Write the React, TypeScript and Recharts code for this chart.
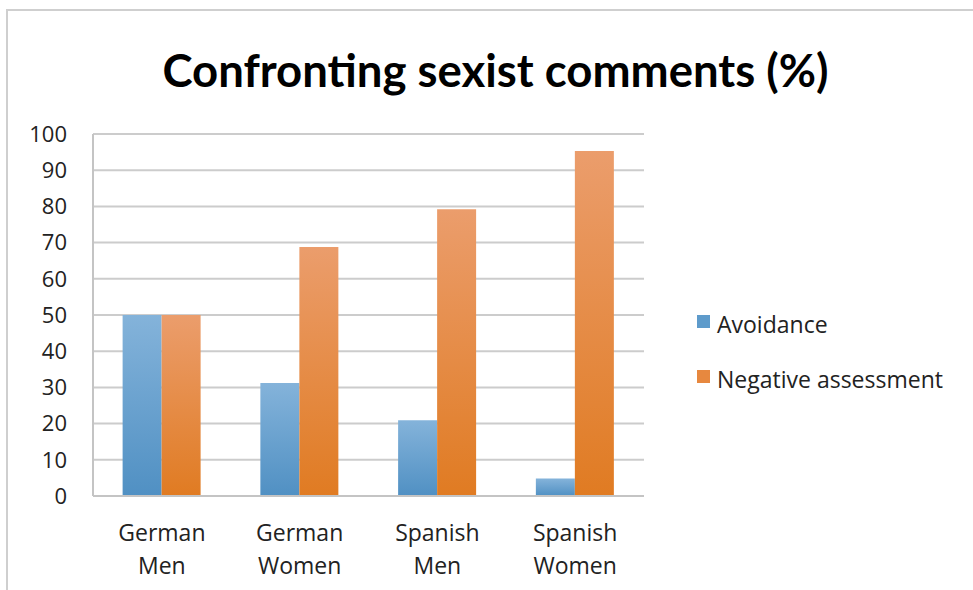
import { BarChart, Bar, XAxis, YAxis, CartesianGrid, Legend } from "recharts";

const groups = ["German\nMen", "German\nWomen", "Spanish\nMen", "Spanish\nWomen"];
const avoidance = [50, 31.2, 20.9, 4.8];
const negativeAssessment = [50, 68.8, 79.2, 95.3];
const yTicks = [0, 10, 20, 30, 40, 50, 60, 70, 80, 90, 100];
const seriesColors = { avoidance: "#5e9bcb", negative: "#e7883f" };

const data = groups.map((g, i) => ({
  group: g,
  avoidance: avoidance[i],
  negative: negativeAssessment[i],
}));

const FONT = "'Open Sans', sans-serif";
const TITLE_FONT = "Lato, 'Open Sans', sans-serif";

const GroupTick = ({ x, y, payload }: any) => {
  const lines = String(payload.value).split("\n");
  return (
    <text x={x} y={y} textAnchor="middle" fill="#222" fontSize={23} fontFamily={FONT}>
      {lines.map((line: string, i: number) => (
        <tspan key={i} x={x} dy={i === 0 ? 37 : 33}>
          {line}
        </tspan>
      ))}
    </text>
  );
};

const LegendContent = ({ payload }: any) => (
  <div style={{ fontFamily: FONT, fontSize: 23, color: "#222" }}>
    {(payload || []).map((entry: any, i: number) => (
      <div key={i} style={{ display: "flex", alignItems: "center", height: 55 }}>
        <span
          style={{
            display: "inline-block",
            width: 13,
            height: 13,
            background: entry.dataKey === "avoidance" ? seriesColors.avoidance : seriesColors.negative,
            marginRight: 7,
            marginTop: -4,
          }}
        />
        {entry.value}
      </div>
    ))}
  </div>
);

export default function App() {
  return (
    <div style={{ position: "absolute", left: 0, top: 0, width: 973, height: 590, background: "#fff", overflow: "hidden" }}>
      <div
        style={{
          position: "absolute",
          left: 6,
          top: 9,
          width: 1000,
          height: 600,
          borderLeft: "2px solid #cfcfcf",
          borderTop: "2px solid #cfcfcf",
        }}
      />
      <div
        style={{
          position: "absolute",
          left: 0,
          top: 42,
          width: 991,
          textAlign: "center",
          fontFamily: TITLE_FONT,
          fontWeight: 700,
          fontSize: 45.5,
          color: "#000",
        }}
      >
        Confronting sexist comments (%)
      </div>
      <BarChart
        width={973}
        height={590}
        data={data}
        margin={{ top: 134, right: 329, left: 0, bottom: 0 }}
        barCategoryGap="21.5%"
        barGap={0}
        style={{ position: "absolute", left: 0, top: 0 }}
      >
        <defs>
          <linearGradient id="blueFill" x1="0" y1="0" x2="0" y2="1">
            <stop offset="0%" stopColor="#84b3da" />
            <stop offset="100%" stopColor="#5090c3" />
          </linearGradient>
          <linearGradient id="orangeFill" x1="0" y1="0" x2="0" y2="1">
            <stop offset="0%" stopColor="#eb9d6c" />
            <stop offset="100%" stopColor="#e07b22" />
          </linearGradient>
        </defs>
        <CartesianGrid vertical={false} stroke="#cccccc" strokeWidth={2} />
        <XAxis
          dataKey="group"
          height={94}
          tick={<GroupTick />}
          tickLine={false}
          axisLine={{ stroke: "#c4c4c4", strokeWidth: 2 }}
          interval={0}
        />
        <YAxis
          width={93}
          domain={[0, 100]}
          ticks={yTicks}
          tickLine={false}
          tickSize={0}
          tickMargin={26}
          axisLine={{ stroke: "#c4c4c4", strokeWidth: 2 }}
          tick={{ fill: "#222", fontSize: 22, fontFamily: FONT }}
        />
        <Legend
          layout="vertical"
          align="center"
          verticalAlign="middle"
          content={<LegendContent />}
          wrapperStyle={{ left: 697, top: 296, width: 275 }}
        />
        <Bar dataKey="avoidance" name="Avoidance" fill="url(#blueFill)" legendType="square" isAnimationActive={false} />
        <Bar dataKey="negative" name="Negative assessment" fill="url(#orangeFill)" legendType="square" isAnimationActive={false} />
      </BarChart>
    </div>
  );
}
